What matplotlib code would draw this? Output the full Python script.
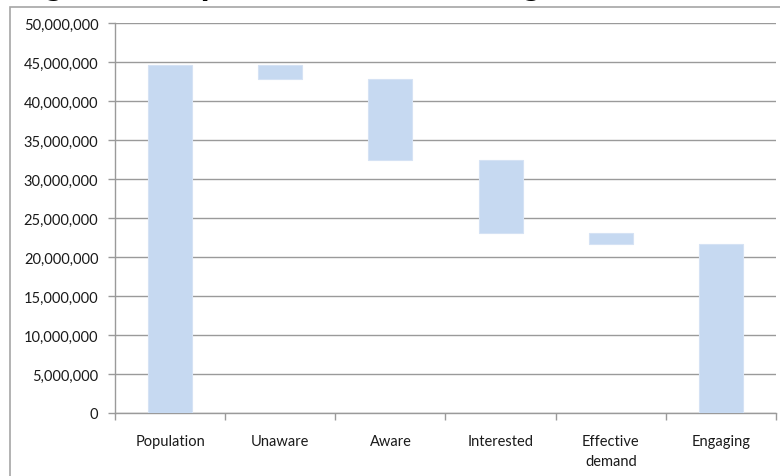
import matplotlib
matplotlib.use("Agg")
import matplotlib.pyplot as plt
from matplotlib.patches import Rectangle
from matplotlib.ticker import FuncFormatter, MultipleLocator

# Funnel stages and the audience size left after each stage
categories = ["Population", "Unaware", "Aware", "Interested", "Effective\ndemand", "Engaging"]
bar_top = [44_600_000, 44_600_000, 42_800_000, 32_400_000, 23_100_000, 21_700_000]
bar_bottom = [0, 42_800_000, 32_400_000, 23_100_000, 21_700_000, 0]
y_ticks = list(range(0, 50_000_001, 5_000_000))

plt.rcParams["font.family"] = ["Lato", "DejaVu Sans"]

W, H = 780, 477
fig = plt.figure(figsize=(W / 100, H / 100), dpi=100)
fig.patch.set_facecolor("white")

# chart frame
fig.patches.append(Rectangle((10 / W, -0.05), 1.2, 1 - 8 / H + 0.05,
                             transform=fig.transFigure, fill=False,
                             edgecolor="#A6A6A6", linewidth=1.2))

# heading sitting above the frame, only its lowest strokes inside the page
fig.text(-3 / W, 1 + 5 / H, "Stages of the public to their last stage",
         fontsize=18.5, fontweight="bold", ha="left", va="baseline",
         family=["DejaVu Sans"])

ax = fig.add_axes([115 / W, 1 - 414 / H, (776 - 115) / W, (414 - 24) / H])
x = range(len(categories))
heights = [t - b for t, b in zip(bar_top, bar_bottom)]
ax.bar(x, heights, bottom=bar_bottom, width=0.4, color="#C6D9F1",
       edgecolor="#D5E2F4", linewidth=0.8, zorder=3)

ax.set_xlim(-0.5, len(categories) - 0.5)
ax.set_ylim(0, 50_000_000)
ax.set_yticks(y_ticks)
ax.yaxis.set_major_formatter(FuncFormatter(lambda v, _: f"{int(v):,}"))
ax.grid(axis="y", color="#9A9A9A", linewidth=1.0, zorder=0)

ax.set_xticks(list(x))
ax.set_xticklabels(categories, fontsize=10.5, color="#1A1A1A", linespacing=1.55)
ax.xaxis.set_minor_locator(MultipleLocator(1, offset=0.5))
ax.tick_params(axis="x", which="major", length=0, pad=15)
ax.tick_params(axis="x", which="minor", length=5, color="#9A9A9A", width=1)
ax.tick_params(axis="y", length=5, color="#9A9A9A", width=1, labelsize=10.5,
               labelcolor="#1A1A1A", pad=7)

for side in ("top", "right"):
    ax.spines[side].set_visible(False)
for side in ("left", "bottom"):
    ax.spines[side].set_color("#9A9A9A")
    ax.spines[side].set_linewidth(1.0)

fig.savefig("out.png", dpi=100)
